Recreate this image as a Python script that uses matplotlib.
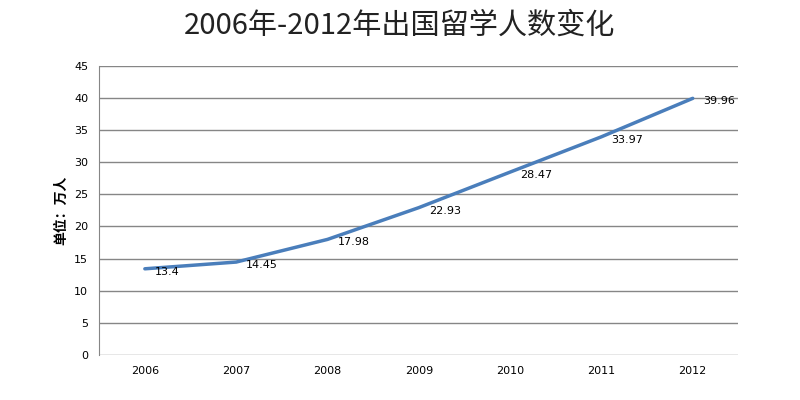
import matplotlib
matplotlib.use("Agg")
import matplotlib.pyplot as plt

plt.rcParams['font.family'] = ['Noto Sans CJK SC', 'DejaVu Sans']

years = ["2006", "2007", "2008", "2009", "2010", "2011", "2012"]
students = [13.4, 14.45, 17.98, 22.93, 28.47, 33.97, 39.96]

fig = plt.figure(figsize=(8, 4), dpi=100)
ax = fig.add_axes([0.124, 0.113, 0.799, 0.722])

x = list(range(len(years)))
ax.plot(x, students, color="#4a7ebb", linewidth=2.5, solid_capstyle="round", zorder=3)

for xi, v in zip(x, students):
    ax.annotate(f"{v:g}", (xi, v), xytext=(10, -3), textcoords="offset pixels",
                ha="left", va="center", fontsize=8, family=["DejaVu Sans"], zorder=4)

ax.set_xlim(-0.5, 6.5)
ax.set_ylim(0, 45)
ax.set_yticks(range(0, 46, 5))
ax.set_xticks(x)
ax.set_xticklabels(years)
ax.yaxis.grid(True, color="#868686", linewidth=1)
ax.set_axisbelow(True)
ax.tick_params(length=0, labelsize=8, pad=8)
for lab in ax.get_xticklabels() + ax.get_yticklabels():
    lab.set_family(["DejaVu Sans"])

for s in ["top", "right", "bottom"]:
    ax.spines[s].set_visible(False)
ax.spines["left"].set_color("#868686")

ax.set_ylabel("单位：万人", fontsize=10, fontweight="bold", labelpad=4)
fig.text(0.5, 0.935, "2006年-2012年出国留学人数变化", fontsize=21,
         ha="center", va="center", color="#222222")

fig.savefig("out.png", dpi=100)
